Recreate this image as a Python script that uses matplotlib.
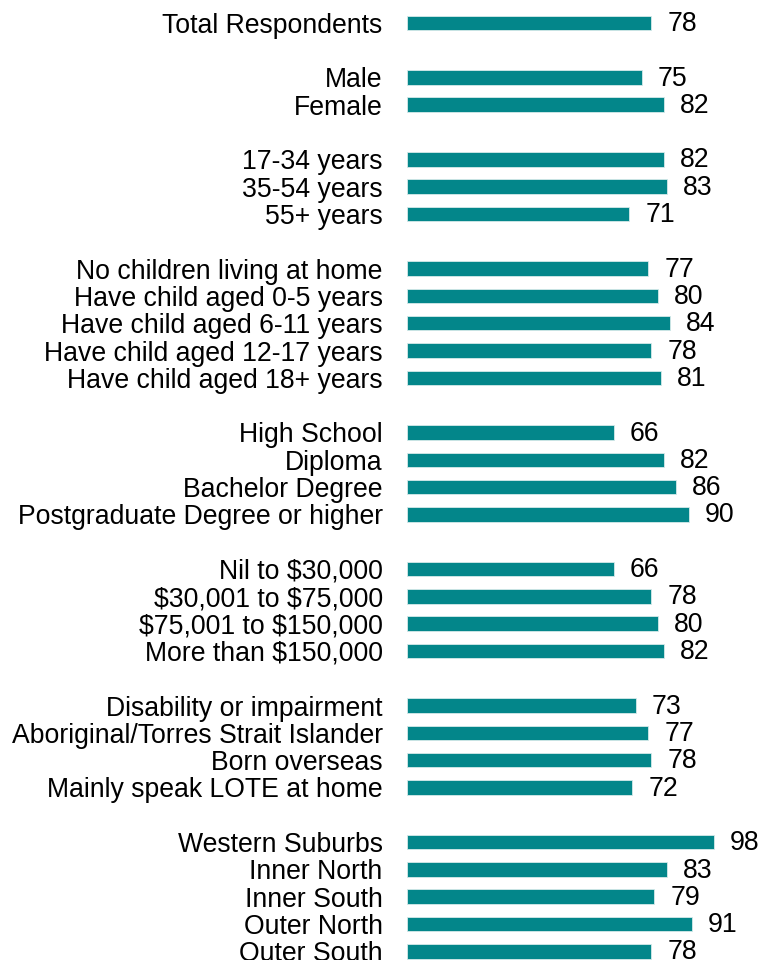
import matplotlib
matplotlib.use("Agg")
import matplotlib.pyplot as plt

plt.rcParams['font.family'] = ['Liberation Sans', 'DejaVu Sans']
plt.rcParams['text.parse_math'] = False

categories = [
    "Total Respondents",
    "Male", "Female",
    "17-34 years", "35-54 years", "55+ years",
    "No children living at home", "Have child aged 0-5 years",
    "Have child aged 6-11 years", "Have child aged 12-17 years",
    "Have child aged 18+ years",
    "High School", "Diploma", "Bachelor Degree", "Postgraduate Degree or higher",
    "Nil to $30,000", "$30,001 to $75,000", "$75,001 to $150,000", "More than $150,000",
    "Disability or impairment", "Aboriginal/Torres Strait Islander",
    "Born overseas", "Mainly speak LOTE at home",
    "Western Suburbs", "Inner North", "Inner South", "Outer North", "Outer South",
]
groups = [0, 1, 1, 2, 2, 2, 3, 3, 3, 3, 3, 4, 4, 4, 4, 5, 5, 5, 5,
          6, 6, 6, 6, 7, 7, 7, 7, 7]
values = [78, 75, 82, 82, 83, 71, 77, 80, 84, 78, 81, 66, 82, 86, 90,
          66, 78, 80, 82, 73, 77, 78, 72, 98, 83, 79, 91, 78]

color = "#03868a"

W, H = 776, 960
fig = plt.figure(figsize=(W / 100, H / 100), dpi=100)
x0 = 406.7
ax = fig.add_axes([x0 / W, 0, (W - x0) / W, 1])

positions = [i + g for i, g in enumerate(groups)]
ax.barh(positions, values, height=0.53, color=color, edgecolor="#d5eaea", linewidth=0.6)

fs = 19.2
for p, v in zip(positions, values):
    ax.annotate(str(v), (v, p), xytext=(11.5, -0.8), textcoords="offset points",
                va="center", ha="left", fontsize=fs, color="#000000")

ax.set_yticks(positions)
ax.set_yticklabels(categories, fontsize=fs)
ax.tick_params(axis="y", length=0, pad=17.3)
ax.set_xticks([])
row = 27.31
top_c = 22.8
ax.set_ylim((H - top_c) / row, -top_c / row)
ax.set_xlim(0, (W - x0) / 3.136)
for s in ax.spines.values():
    s.set_visible(False)

fig.savefig("out.png", dpi=100)
